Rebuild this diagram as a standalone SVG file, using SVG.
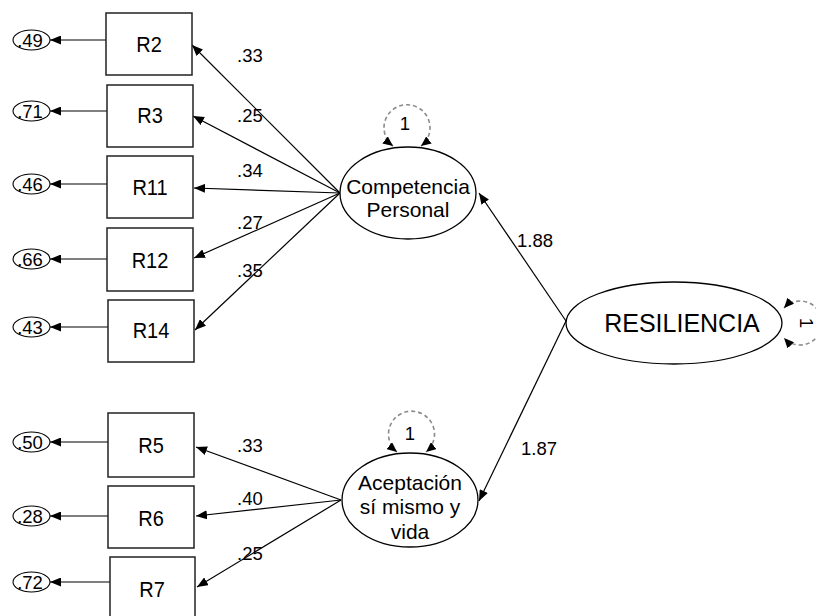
<svg xmlns="http://www.w3.org/2000/svg" width="816" height="616" viewBox="0 0 816 616">
  <style>
    text { font-family: "Liberation Sans", Arial, sans-serif; fill: #000; }
    .obs { fill: #fff; stroke: #222; stroke-width: 1.5; }
    .lat { fill: #fff; stroke: #000; stroke-width: 1.3; }
    .err { fill: #fff; stroke: #000; stroke-width: 1.1; }
    .path { fill: none; stroke: #000; stroke-width: 1.2; marker-end: url(#arrow); }
    .loop { fill: none; stroke: #8a8a8a; stroke-width: 1.6; stroke-dasharray: 4 3; marker-start: url(#arrowLoop); marker-end: url(#arrowLoop); }
    .var { font-size: 20px; text-anchor: middle; }
    .lv { font-size: 21px; text-anchor: middle; }
    .ev { font-size: 18.5px; text-anchor: middle; }
    .coef { font-size: 18.5px; }
  </style>
  <defs>
    <marker id="arrow" markerUnits="userSpaceOnUse" markerWidth="11" markerHeight="9" refX="11" refY="4.5" orient="auto">
      <path d="M0,0 L11,4.5 L0,9 z" fill="#000"/>
    </marker>
    <marker id="arrowLoop" markerUnits="userSpaceOnUse" markerWidth="10" markerHeight="9" refX="10" refY="4.5" orient="auto-start-reverse">
      <path d="M0,0 L10,4.5 L0,9 z" fill="#000"/>
    </marker>
  </defs>

  <!-- connectors: error paths, loadings, second-order paths, variances -->
  <g id="connectors">
    <line class="path" x1="106" y1="40" x2="50" y2="40"/>
    <line class="path" x1="107" y1="111" x2="50" y2="111"/>
    <line class="path" x1="107" y1="184" x2="50" y2="184"/>
    <line class="path" x1="107" y1="259" x2="50" y2="259"/>
    <line class="path" x1="108" y1="327" x2="50" y2="327"/>
    <line class="path" x1="108" y1="442" x2="50" y2="442"/>
    <line class="path" x1="108" y1="516" x2="50" y2="516"/>
    <line class="path" x1="110" y1="582" x2="50" y2="582"/>

    <line class="path" x1="340" y1="193" x2="192" y2="45"/>
    <line class="path" x1="340" y1="193" x2="193" y2="116"/>
    <line class="path" x1="340" y1="193" x2="194" y2="188"/>
    <line class="path" x1="340" y1="193" x2="194" y2="258"/>
    <line class="path" x1="340" y1="193" x2="195" y2="330"/>

    <line class="path" x1="341" y1="500" x2="196" y2="447"/>
    <line class="path" x1="341" y1="500" x2="196" y2="516"/>
    <line class="path" x1="341" y1="500" x2="197" y2="587"/>

    <line class="path" x1="566" y1="321" x2="479" y2="193"/>
    <line class="path" x1="566" y1="321" x2="479" y2="501"/>

    <path class="loop" d="M393,146 A23,23 0 1 1 421,146"/>
    <path class="loop" d="M397,452 A23,23 0 1 1 426,452"/>
    <path class="loop" d="M784,308 A22,22 0 1 1 784,338"/>

    <text class="coef" x="237" y="62">.33</text>
    <text class="coef" x="237" y="122">.25</text>
    <text class="coef" x="237" y="177">.34</text>
    <text class="coef" x="237" y="229">.27</text>
    <text class="coef" x="237" y="277">.35</text>
    <text class="coef" x="237" y="452">.33</text>
    <text class="coef" x="237" y="505">.40</text>
    <text class="coef" x="237" y="560">.25</text>
    <text class="coef" x="517" y="247">1.88</text>
    <text class="coef" x="521" y="455">1.87</text>
    <text class="coef" x="405" y="130" text-anchor="middle">1</text>
    <text class="coef" x="410" y="440" text-anchor="middle">1</text>
    <text class="coef" x="806" y="323" text-anchor="middle" transform="rotate(90 806 323)" dy="6">1</text>
  </g>

  <!-- error terms -->
  <g id="e2"><ellipse class="err" cx="31.5" cy="40" rx="18.5" ry="10"/><text class="ev" x="30" y="46.5">.49</text></g>
  <g id="e3"><ellipse class="err" cx="31.5" cy="111" rx="18.5" ry="10"/><text class="ev" x="30" y="117.5">.71</text></g>
  <g id="e11"><ellipse class="err" cx="31.5" cy="184" rx="18.5" ry="10"/><text class="ev" x="30" y="190.5">.46</text></g>
  <g id="e12"><ellipse class="err" cx="31.5" cy="259" rx="18.5" ry="10"/><text class="ev" x="30" y="265.5">.66</text></g>
  <g id="e14"><ellipse class="err" cx="31.5" cy="327" rx="18.5" ry="10"/><text class="ev" x="30" y="333.5">.43</text></g>
  <g id="e5"><ellipse class="err" cx="31.5" cy="442" rx="18.5" ry="10"/><text class="ev" x="30" y="448.5">.50</text></g>
  <g id="e6"><ellipse class="err" cx="31.5" cy="516" rx="18.5" ry="10"/><text class="ev" x="30" y="522.5">.28</text></g>
  <g id="e7"><ellipse class="err" cx="31.5" cy="582" rx="18.5" ry="10"/><text class="ev" x="30" y="588.5">.72</text></g>

  <!-- observed items (labels drawn slightly tall) -->
  <g id="R2"><rect class="obs" x="106" y="13" width="86" height="62"/><text class="var" transform="translate(149,52) scale(1,1.12)">R2</text></g>
  <g id="R3"><rect class="obs" x="107" y="85" width="86" height="62"/><text class="var" transform="translate(150,123) scale(1,1.12)">R3</text></g>
  <g id="R11"><rect class="obs" x="107" y="156" width="86" height="62"/><text class="var" transform="translate(150,195) scale(1,1.12)">R11</text></g>
  <g id="R12"><rect class="obs" x="107" y="228" width="86" height="63"/><text class="var" transform="translate(150,268) scale(1,1.12)">R12</text></g>
  <g id="R14"><rect class="obs" x="108" y="300" width="86" height="62"/><text class="var" transform="translate(151,338) scale(1,1.12)">R14</text></g>
  <g id="R5"><rect class="obs" x="108" y="413" width="86" height="64"/><text class="var" transform="translate(151,453) scale(1,1.12)">R5</text></g>
  <g id="R6"><rect class="obs" x="108" y="486" width="86" height="62"/><text class="var" transform="translate(151,526) scale(1,1.12)">R6</text></g>
  <g id="R7"><rect class="obs" x="110" y="557" width="85" height="63"/><text class="var" transform="translate(152,597) scale(1,1.12)">R7</text></g>

  <!-- latent factors -->
  <g id="competencia">
    <ellipse class="lat" cx="408" cy="193" rx="68" ry="46"/>
    <text class="lv" x="408" y="194">Competencia</text>
    <text class="lv" x="408" y="217">Personal</text>
  </g>
  <g id="aceptacion">
    <ellipse class="lat" cx="410" cy="500" rx="68" ry="47"/>
    <text class="lv" x="410" y="490">Aceptación</text>
    <text class="lv" x="410" y="514">sí mismo y</text>
    <text class="lv" x="410" y="539">vida</text>
  </g>
  <g id="resiliencia">
    <ellipse class="lat" cx="674" cy="323" rx="108" ry="41"/>
    <text x="682" y="332" font-size="25" text-anchor="middle">RESILIENCIA</text>
  </g>
</svg>
